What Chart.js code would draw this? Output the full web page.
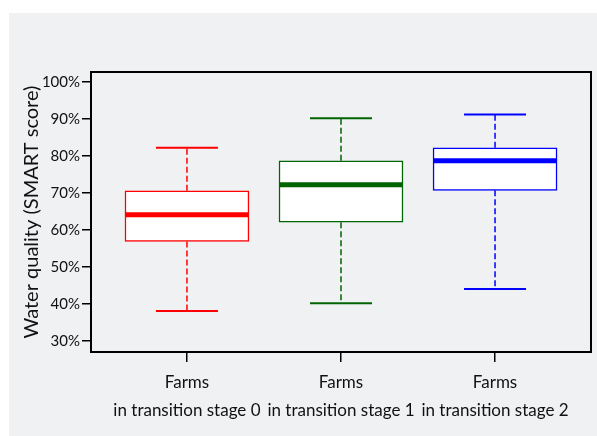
<!DOCTYPE html>
<html>
<head>
<meta charset="utf-8">
<script src="https://cdn.jsdelivr.net/npm/chart.js@4.4.1/dist/chart.umd.min.js"></script>
<style>
  html, body { margin: 0; padding: 0; background: #fff; }
  canvas { display: block; }
</style>
</head>
<body>
<canvas id="boxChart" width="597" height="436"></canvas>
<script>
// data
const stageLabels = [
    ['Farms', 'in transition stage 0'],
    ['Farms', 'in transition stage 1'],
    ['Farms', 'in transition stage 2']
];
const whiskerLow  = [38.1, 40.2, 44.0];
const quartile1   = [56.9, 62.1, 70.7];
const medians     = [64.1, 72.2, 78.7];
const quartile3   = [70.6, 78.7, 82.2];
const whiskerHigh = [82.2, 90.2, 91.2];
const yTickValues = [30, 40, 50, 60, 70, 80, 90, 100];

const stageColors = ['#ff0000', '#006400', '#0000ff'];
const fontFamily = 'Lato, "Open Sans", sans-serif';

// gray panel behind everything
const panelPlugin = {
    id: 'panel',
    beforeDraw(chart) {
        const ctx = chart.ctx;
        ctx.save();
        ctx.fillStyle = '#ffffff';
        ctx.fillRect(0, 0, chart.width, chart.height);
        ctx.fillStyle = '#f0f1f3';
        ctx.fillRect(9, 13, chart.width - 9, chart.height - 13);
        ctx.restore();
    },
    beforeDatasetsDraw(chart) {
        const { ctx, chartArea } = chart;
        ctx.save();
        ctx.strokeStyle = '#000';
        ctx.lineWidth = 2;
        ctx.strokeRect(chartArea.left, chartArea.top,
            chartArea.right - chartArea.left, chartArea.bottom - chartArea.top);
        ctx.restore();
    }
};

// whiskers, caps and medians, placed with the chart scales
const whiskerPlugin = {
    id: 'whiskers',
    afterDatasetsDraw(chart) {
        const { ctx, scales: { x, y } } = chart;
        const meta = chart.getDatasetMeta(0);
        medians.forEach((med, i) => {
            const bar = meta.data[i];
            const half = bar.width / 2;
            const cx = x.getPixelForValue(i);
            ctx.save();
            ctx.strokeStyle = stageColors[i];

            // dashed stems
            ctx.lineWidth = 1.5;
            ctx.setLineDash([6, 3]);
            ctx.beginPath();
            ctx.moveTo(cx, y.getPixelForValue(quartile3[i]));
            ctx.lineTo(cx, y.getPixelForValue(whiskerHigh[i]));
            ctx.moveTo(cx, y.getPixelForValue(quartile1[i]));
            ctx.lineTo(cx, y.getPixelForValue(whiskerLow[i]));
            ctx.stroke();

            // caps
            ctx.setLineDash([]);
            ctx.lineWidth = 2;
            ctx.beginPath();
            [whiskerHigh[i], whiskerLow[i]].forEach(v => {
                const py = y.getPixelForValue(v);
                ctx.moveTo(cx - half / 2, py);
                ctx.lineTo(cx + half / 2, py);
            });
            ctx.stroke();

            // median
            ctx.lineWidth = 5;
            ctx.beginPath();
            const my = y.getPixelForValue(med);
            ctx.moveTo(cx - half, my);
            ctx.lineTo(cx + half, my);
            ctx.stroke();
            ctx.restore();
        });
    }
};

new Chart(document.getElementById('boxChart'), {
    type: 'bar',
    data: {
        datasets: [{
            data: medians.map((m, i) => ({ x: i, y: [quartile1[i], quartile3[i]] })),
            backgroundColor: '#ffffff',
            borderColor: stageColors,
            borderWidth: 1.5,
            borderSkipped: false,
            barThickness: 124
        }]
    },
    options: {
        responsive: false,
        animation: false,
        layout: { padding: { left: 12, top: 72, right: 6, bottom: 0 } },
        plugins: {
            legend: { display: false },
            tooltip: { enabled: false }
        },
        scales: {
            x: {
                type: 'linear',
                offset: false,
                min: -0.623,
                max: 2.623,
                afterBuildTicks: (scale) => {
                    scale.ticks = stageLabels.map((l, i) => ({ value: i }));
                },
                afterFit: (scale) => { scale.height = 84; },
                ticks: {
                    callback: (value) => stageLabels[value],
                    color: '#111',
                    padding: 7,
                    maxRotation: 0,
                    autoSkip: false,
                    font: { family: fontFamily, size: 17, lineHeight: 1.62 }
                },
                grid: {
                    display: true,
                    offset: false,
                    drawOnChartArea: false,
                    drawTicks: true,
                    tickLength: 10,
                    color: '#000',
                    lineWidth: 1.5
                },
                border: { display: true, color: '#000', width: 2 }
            },
            y: {
                min: 27,
                max: 102.7,
                afterBuildTicks: (scale) => {
                    scale.ticks = yTickValues.map(v => ({ value: v }));
                },
                afterFit: (scale) => { scale.width = 79; },
                ticks: {
                    callback: (value) => value + '%',
                    color: '#111',
                    padding: 2,
                    font: { family: fontFamily, size: 15 }
                },
                grid: {
                    display: true,
                    drawOnChartArea: false,
                    drawTicks: true,
                    tickLength: 9,
                    color: '#000',
                    lineWidth: 1.5
                },
                border: { display: true, color: '#000', width: 2 },
                title: {
                    display: true,
                    text: 'Water quality (SMART score)',
                    color: '#111',
                    padding: { top: 8, bottom: 0 },
                    font: { family: fontFamily, size: 20 }
                }
            }
        }
    },
    plugins: [panelPlugin, whiskerPlugin]
});
</script>
</body>
</html>
